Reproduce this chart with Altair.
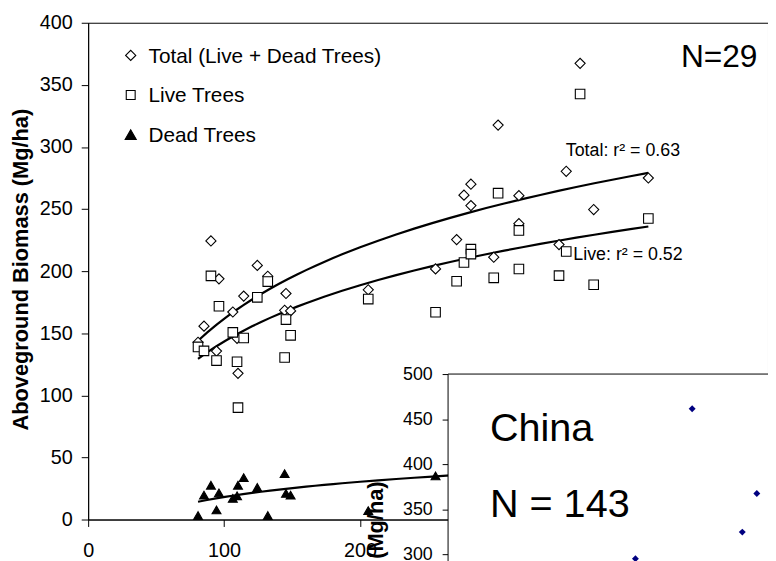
import altair as alt
import pandas as pd

FONT = "Liberation Sans"

# ---- main chart data (29 sites) ----
site_x = [80.8, 85.2, 90.3, 94.4, 96.2, 106.4, 109.5, 110.2, 114.4, 124.4,
          132.1, 144.5, 145.5, 148.9, 206.0, 255.5, 271.0, 276.4, 281.5, 281.5,
          298.3, 301.5, 316.8, 316.8, 346.3, 351.6, 361.8, 371.8, 412.0]
total = [142.7, 155.7, 224.3, 135.6, 193.8, 167.1, 145.9, 117.7, 179.9, 204.6,
         195.9, 168.5, 182.0, 168.0, 185.0, 201.8, 225.4, 261.2, 270.0, 252.8,
         211.2, 317.6, 260.8, 238.2, 221.4, 280.4, 367.3, 249.6, 275.0]
live = [139.0, 135.8, 196.2, 128.0, 171.7, 150.7, 127.0, 90.1, 146.2, 178.9,
        191.6, 130.5, 161.0, 148.3, 177.5, 166.9, 191.9, 207.0, 217.7, 213.7,
        194.6, 262.8, 232.8, 201.7, 196.4, 215.8, 342.6, 189.0, 242.4]
dead = [3.2, 19.6, 27.6, 7.7, 21.5, 17.0, 19.1, 27.6, 33.7, 25.8,
        3.2, 36.9, 21.0, 19.6, 7.2, 35.1, 33.5, 54.2, 52.3, 39.1,
        16.6, 54.8, 28.0, 36.5, 25.0, 64.6, 24.7, 60.6, 32.6]
series_names = ["Total (Live + Dead Trees)", "Live Trees", "Dead Trees"]
series_shapes = ["diamond", "square", "triangle-up"]
series_fills = ["white", "white", "black"]
series_sizes = [105, 81, 125]

x_ticks = [0, 100, 200, 300, 400, 500]
y_ticks = [0, 50, 100, 150, 200, 250, 300, 350, 400]

# ---- inset (China) data ----
china_x = [185, 223, 234, 142]
china_y = [461.5, 324.5, 367.4, 295]
inset_ticks = [0, 50, 100, 150, 200, 250, 300, 350, 400, 450, 500]

rows = []
for name, vals in zip(series_names, [total, live, dead]):
    for xv, v in zip(site_x, vals):
        rows.append({"x": xv, "v": v, "series": name})
df = pd.DataFrame(rows)
one = pd.DataFrame({"a": [0]})

x_enc = alt.X("x:Q", scale=alt.Scale(domain=[0, 500], nice=False, zero=False),
              axis=alt.Axis(values=x_ticks, title=None, labelFontSize=20, tickSize=7,
                            labelPadding=14, labelFlush=False, grid=False))
y_enc = alt.Y("v:Q", scale=alt.Scale(domain=[0, 400], nice=False),
              axis=alt.Axis(values=y_ticks, title="Aboveground Biomass (Mg/ha)",
                            titleFontSize=22, titleFontWeight="bold", titleAngle=270,
                            titleX=-61, titleY=249, titleAlign="center",
                            titleBaseline="alphabetic",
                            labelFontSize=20, tickSize=7, labelPadding=9, grid=False))

def fit_line(name):
    return alt.Chart(df).transform_filter(
        alt.datum.series == name
    ).transform_regression("x", "v", method="log").mark_line(
        color="black", strokeWidth=2.2
    ).encode(x=x_enc, y=y_enc)

pts = alt.Chart(df).mark_point(filled=True, opacity=1, strokeWidth=1.1).encode(
    x=x_enc, y=y_enc,
    shape=alt.Shape("series:N", scale=alt.Scale(domain=series_names, range=series_shapes),
                    legend=None),
    fill=alt.Fill("series:N", scale=alt.Scale(domain=series_names, range=series_fills),
                  legend=None),
    size=alt.Size("series:N", scale=alt.Scale(domain=series_names, range=series_sizes),
                  legend=None),
    stroke=alt.value("black"),
)

def label(txt, x, y, size):
    return alt.Chart(one).mark_text(text=txt, align="left", baseline="alphabetic",
                                    fontSize=size, font=FONT, color="black").encode(
        x=alt.value(x), y=alt.value(y))

# ---- legend (inside plot, top-left) ----
legend_layers = []
for i, (name, shp, fil, sz) in enumerate(zip(series_names, series_shapes,
                                             series_fills, series_sizes)):
    cy = 33 + 40 * i
    legend_layers.append(
        alt.Chart(one).mark_point(shape=shp, fill=fil, stroke="black", filled=True,
                                  opacity=1, strokeWidth=1.1, size=sz).encode(
            x=alt.value(43), y=alt.value(cy)))
    legend_layers.append(label(name, 61, cy + 7.5, 21))

main = alt.layer(
    fit_line("Total (Live + Dead Trees)"),
    fit_line("Live Trees"),
    fit_line("Dead Trees"),
    pts,
    label("N=29", 599, 45, 32),
    label("Total: r² = 0.63", 482.7, 135, 18),
    label("Live: r² = 0.52", 490.3, 240, 18),
    *legend_layers,
)

inset_bg = alt.Chart(one).mark_rect(fill="white", stroke="black", strokeWidth=1).encode(
    x=alt.value(363.7), x2=alt.value(1400), y=alt.value(355), y2=alt.value(1400))

china_df = pd.DataFrame({"cx": china_x, "cy": china_y})
inset_pts = alt.Chart(china_df).mark_point(shape="diamond", filled=True, color="#000080",
                                           size=49, opacity=1).encode(
    x=alt.X("cx:Q", scale=alt.Scale(domain=[0, 300], range=[363.7, 763.7]), axis=None),
    y=alt.Y("cy:Q", scale=alt.Scale(domain=[0, 500], range=[810, 355]),
            axis=alt.Axis(orient="left", offset=-363.7, values=inset_ticks,
                          title="Aboveground Biomass (Mg/ha)", titleFontSize=22,
                          titleFontWeight="bold", titleAngle=270, titleAlign="right",
                          titleBaseline="alphabetic", titleX=-66.7, titleY=463,
                          labelFontSize=18, tickSize=6, labelPadding=10,
                          domain=False, grid=False)),
)

chart = alt.layer(
    main,
    inset_bg,
    inset_pts,
    label("China", 406, 422.7, 40),
    label("N = 143", 406, 499.3, 40),
).resolve_scale(x="independent", y="independent").properties(
    width=687, height=502,
    autosize=alt.AutoSizeParams(type="none"),
    padding={"left": 81, "top": 12, "right": 0, "bottom": 39},
    background="white",
).configure_view(
    stroke="black", strokeWidth=1
).configure_axis(
    domainColor="black", tickColor="black", labelColor="black", titleColor="black",
    labelFont=FONT, titleFont=FONT, domainWidth=1, tickWidth=1
)

chart.save("out.html", embed_options={"renderer": "svg", "actions": False})
